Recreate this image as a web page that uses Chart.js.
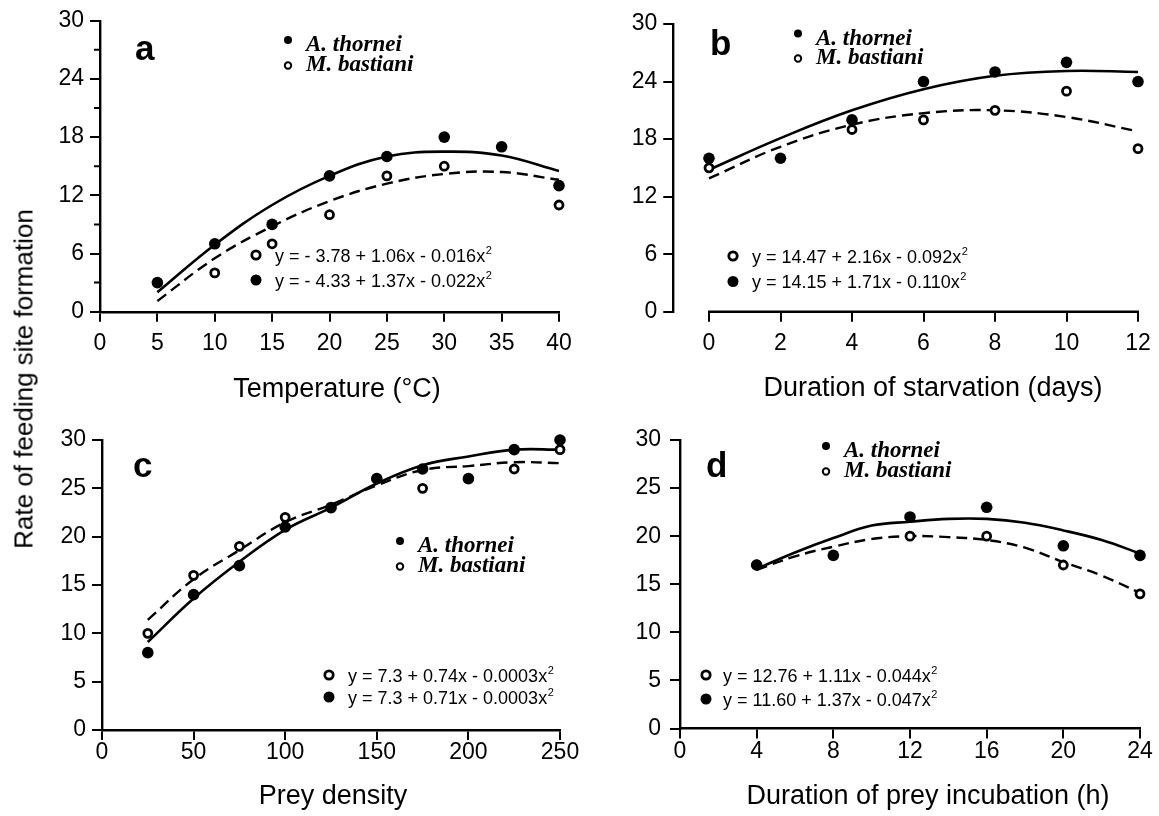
<!DOCTYPE html>
<html>
<head>
<meta charset="utf-8">
<script src="https://cdn.jsdelivr.net/npm/chart.js@4.4.1/dist/chart.umd.min.js"></script>
<style>
  html, body { margin: 0; padding: 0; background: #fff; }
  body { width: 1159px; height: 816px; position: relative; overflow: hidden; }
  canvas { position: absolute; }
  #ytitle {
    position: absolute; left: 24px; top: 379px;
    transform: translate(-50%, -50%) rotate(-90deg);
    font: 26px "Liberation Sans", Arial, sans-serif;
    white-space: nowrap; color: #000;
  }
</style>
</head>
<body>
<canvas id="pa" width="580" height="410" style="left:0;top:0"></canvas>
<canvas id="pb" width="579" height="410" style="left:580px;top:0"></canvas>
<canvas id="pc" width="580" height="406" style="left:0;top:410px"></canvas>
<canvas id="pd" width="579" height="406" style="left:580px;top:410px"></canvas>
<div id="ytitle">Rate of feeding site formation</div>
<script>
const FONT = '"Liberation Sans", Arial, Helvetica, sans-serif';
const SERIF = '"Liberation Serif", "Times New Roman", serif';

// a - temperature
const tempX = [5, 10, 15, 20, 25, 30, 35, 40];
const tempThornei = [3, 7, 9, 14, 16, 18, 17, 13];
const tempBastiani = [null, 4, 7, 10, 14, 15, null, 11];
const tempFitThornei = [2.0, 6.9, 11.0, 14.0, 16.0, 16.5, 16.1, 14.5];
const tempFitBastiani = [1.1, 5.5, 8.8, 11.4, 13.2, 14.2, 14.4, 13.6];
const tempXTicks = [0, 5, 10, 15, 20, 25, 30, 35, 40];
const tempYTicks = [0, 6, 12, 18, 24, 30];
const tempYMinor = [3, 9, 15, 21, 27];

// b - starvation
const starvX = [0, 2, 4, 6, 8, 10, 12];
const starvThornei = [16, 16, 20, 24, 25, 26, 24];
const starvBastiani = [15, null, 19, 20, 21, 23, 17];
const starvFitThornei = [14.8, 18.1, 21.0, 23.2, 24.6, 25.1, 25.0];
const starvFitBastiani = [13.9, 17.2, 19.5, 20.7, 21.0, 20.3, 18.8];
const starvXTicks = [0, 2, 4, 6, 8, 10, 12];
const starvYTicks = [0, 6, 12, 18, 24, 30];

// c - prey density
const preyX = [25, 50, 75, 100, 125, 150, 175, 200, 225, 250];
const preyThornei = [8, 14, 17, 21, 23, 26, 27, 26, 29, 30];
const preyBastiani = [10, 16, 19, 22, 23, 26, 25, 26, 27, 29];
const preyFitThornei = [9.1, 13.6, 17.4, 20.7, 23.0, 25.5, 27.4, 28.3, 29.0, 29.0];
const preyFitBastiani = [11.4, 15.6, 18.6, 21.5, 23.3, 25.3, 26.9, 27.3, 27.7, 27.6];
const preyXTicks = [0, 50, 100, 150, 200, 250];
const preyYTicks = [0, 5, 10, 15, 20, 25, 30];

// d - prey incubation
const incX = [4, 8, 12, 16, 20, 24];
const incThornei = [17, 18, 22, 23, 19, 18];
const incBastiani = [17, null, 20, 20, 17, 14];
const incFitX = [4, 6, 8, 10, 12, 14, 16, 18, 20, 22, 24];
const incFitThornei = [16.6, 18.3, 19.8, 21.1, 21.5, 21.8, 21.8, 21.4, 20.6, 19.6, 18.2];
const incFitBastiani = [16.5, 17.9, 18.9, 19.7, 20.0, 19.9, 19.6, 18.8, 17.3, 15.9, 14.1];
const incXTicks = [0, 4, 8, 12, 16, 20, 24];
const incYTicks = [0, 5, 10, 15, 20, 25, 30];

const speciesA = 'A. thornei';
const speciesM = 'M. bastiani';

function pts(xs, ys) {
  return xs.map((x, i) => ({ x: x, y: ys[i] })).filter(p => p.y != null);
}

function circle(ctx, x, y, r, filled, lw) {
  ctx.beginPath();
  ctx.arc(x, y, r, 0, Math.PI * 2);
  if (filled) { ctx.fill(); } else { ctx.lineWidth = lw; ctx.stroke(); }
}

function notesPlugin(p) {
  return {
    id: 'notes',
    afterDraw(chart) {
      const ctx = chart.ctx;
      const ca = chart.chartArea;
      const xs = chart.scales.x, ys = chart.scales.y;
      const ox = p.left, oy = p.top;
      ctx.save();
      ctx.fillStyle = '#000';
      ctx.strokeStyle = '#000';

      // x axis line that starts at the first tick (panel b)
      if (p.axisFrom != null) {
        ctx.lineWidth = 2.4;
        ctx.beginPath();
        ctx.moveTo(xs.getPixelForValue(p.axisFrom) - 1, ca.bottom);
        ctx.lineTo(xs.getPixelForValue(p.axisTo) + 1, ca.bottom);
        ctx.stroke();
      }
      // minor y ticks
      if (p.yMinor) {
        ctx.lineWidth = 2;
        ctx.beginPath();
        p.yMinor.forEach(v => {
          const y = ys.getPixelForValue(v);
          ctx.moveTo(ca.left - 6, y);
          ctx.lineTo(ca.left, y);
        });
        ctx.stroke();
      }

      // panel letter
      ctx.textAlign = 'left';
      ctx.textBaseline = 'alphabetic';
      ctx.font = 'bold 35px ' + FONT;
      ctx.fillText(p.letter, p.letterAt[0] - ox, p.letterAt[1] - oy);

      // species key
      const k = p.key;
      circle(ctx, k[0] - ox, k[1] - 11 - oy, 4, true);
      circle(ctx, k[0] - ox, k[2] - 5.5 - oy, 3.2, false, 2);
      ctx.font = 'italic bold 23px ' + SERIF;
      ctx.fillText(speciesA, k[0] + 18 - ox, k[1] - oy);
      ctx.fillText(speciesM, k[0] + 18 - ox, k[2] - oy);

      // fitted equations
      const e = p.eqAt;
      circle(ctx, e[0] - ox, e[2] - oy, 4.2, false, 2.8);
      circle(ctx, e[0] - ox, e[3] - oy, 5.5, true);
      [[p.eq[0], e[2]], [p.eq[1], e[3]]].forEach(row => {
        const base = row[1] + 6.5 - oy;
        ctx.font = '18px ' + FONT;
        ctx.fillText(row[0], e[1] - ox, base);
        const w = ctx.measureText(row[0]).width;
        ctx.font = '11px ' + FONT;
        ctx.fillText('2', e[1] - ox + w + 0.5, base - 8);
      });

      // x axis title
      ctx.textAlign = 'center';
      ctx.font = '27px ' + FONT;
      ctx.fillText(p.xTitle, p.titleAt[0] - ox, p.titleAt[1] - oy);
      ctx.restore();
    }
  };
}

function makePanel(id, p) {
  const tickFont = { family: FONT, size: 23 };
  const grid = { drawOnChartArea: false, drawTicks: true, tickLength: 10, color: '#000', lineWidth: 2 };
  return new Chart(document.getElementById(id), {
    type: 'scatter',
    data: {
      datasets: [
        { data: pts(p.x, p.thornei), showLine: false, pointRadius: 5.8, pointBackgroundColor: '#000',
          pointBorderColor: '#000', pointBorderWidth: 0, clip: false },
        { data: pts(p.x, p.bastiani), showLine: false, pointRadius: 4, pointBackgroundColor: '#fff',
          pointBorderColor: '#000', pointBorderWidth: 2.8, clip: false },
        { data: pts(p.fitX, p.fitThornei), showLine: true, pointRadius: 0, borderColor: '#000',
          borderWidth: 2.6, tension: 0.4, fill: false, clip: false },
        { data: pts(p.fitX, p.fitBastiani), showLine: true, pointRadius: 0, borderColor: '#000',
          borderWidth: 2.4, borderDash: [11, 6], tension: 0.4, fill: false, clip: false }
      ]
    },
    options: {
      responsive: false,
      animation: false,
      events: [],
      layout: { padding: { left: 0, top: p.padT, right: p.padR, bottom: 0 } },
      plugins: { legend: { display: false }, tooltip: { enabled: false } },
      scales: {
        x: {
          type: 'linear', min: p.xMin, max: p.xMax,
          afterBuildTicks: s => { s.ticks = p.xTicks.map(v => ({ value: v })); },
          afterFit: s => { s.height = p.xAxisH; },
          grid: grid,
          border: { display: p.axisFrom == null, color: '#000', width: 2.4 },
          ticks: { color: '#000', font: tickFont, padding: p.xPad, maxRotation: 0, autoSkip: false }
        },
        y: {
          type: 'linear', min: 0, max: 30,
          afterBuildTicks: s => { s.ticks = p.yTicks.map(v => ({ value: v })); },
          afterFit: s => { s.width = p.yAxisW; },
          grid: grid,
          border: { color: '#000', width: 2.4 },
          ticks: { color: '#000', font: tickFont, padding: p.yPad, autoSkip: false }
        }
      }
    },
    plugins: [notesPlugin(p)]
  });
}

makePanel('pa', {
  left: 0, top: 0, padT: 20.7, padR: 21, yAxisW: 100, xAxisH: 98.3, xPad: 8, yPad: 6,
  xMin: 0, xMax: 40, xTicks: tempXTicks, yTicks: tempYTicks, yMinor: tempYMinor,
  x: tempX, thornei: tempThornei, bastiani: tempBastiani,
  fitX: tempX, fitThornei: tempFitThornei, fitBastiani: tempFitBastiani,
  letter: 'a', letterAt: [135, 60], key: [288, 51, 71],
  eq: ['y = - 3.78 + 1.06x - 0.016x', 'y = - 4.33 + 1.37x - 0.022x'], eqAt: [256, 275, 255, 280],
  xTitle: 'Temperature (°C)', titleAt: [337, 397]
});

makePanel('pb', {
  left: 580, top: 0, padT: 24, padR: 21, yAxisW: 93.25, xAxisH: 98.3, xPad: 8, yPad: 6,
  xMin: -1, xMax: 12, xTicks: starvXTicks, yTicks: starvYTicks, axisFrom: 0, axisTo: 12,
  x: starvX, thornei: starvThornei, bastiani: starvBastiani,
  fitX: starvX, fitThornei: starvFitThornei, fitBastiani: starvFitBastiani,
  letter: 'b', letterAt: [710, 55], key: [798, 44.5, 64],
  eq: ['y = 14.47 + 2.16x - 0.092x', 'y = 14.15 + 1.71x - 0.110x'], eqAt: [733, 752, 256, 281.5],
  xTitle: 'Duration of starvation (days)', titleAt: [933, 396]
});

makePanel('pc', {
  left: 0, top: 410, padT: 30, padR: 20, yAxisW: 102, xAxisH: 86, xPad: -1, yPad: 6,
  xMin: 0, xMax: 250, xTicks: preyXTicks, yTicks: preyYTicks,
  x: preyX, thornei: preyThornei, bastiani: preyBastiani,
  fitX: preyX, fitThornei: preyFitThornei, fitBastiani: preyFitBastiani,
  letter: 'c', letterAt: [133, 477], key: [400, 552, 572],
  eq: ['y = 7.3 + 0.74x - 0.0003x', 'y = 7.3 + 0.71x - 0.0003x'], eqAt: [329, 348, 675, 697],
  xTitle: 'Prey density', titleAt: [333, 804]
});

makePanel('pd', {
  left: 580, top: 410, padT: 30, padR: 19, yAxisW: 100, xAxisH: 87.5, xPad: -1, yPad: 9,
  xMin: 0, xMax: 24, xTicks: incXTicks, yTicks: incYTicks,
  x: incX, thornei: incThornei, bastiani: incBastiani,
  fitX: incFitX, fitThornei: incFitThornei, fitBastiani: incFitBastiani,
  letter: 'd', letterAt: [706, 477], key: [826, 457, 477],
  eq: ['y = 12.76 + 1.11x - 0.044x', 'y = 11.60 + 1.37x - 0.047x'], eqAt: [706, 723, 675, 699],
  xTitle: 'Duration of prey incubation (h)', titleAt: [928, 804]
});
</script>
</body>
</html>
